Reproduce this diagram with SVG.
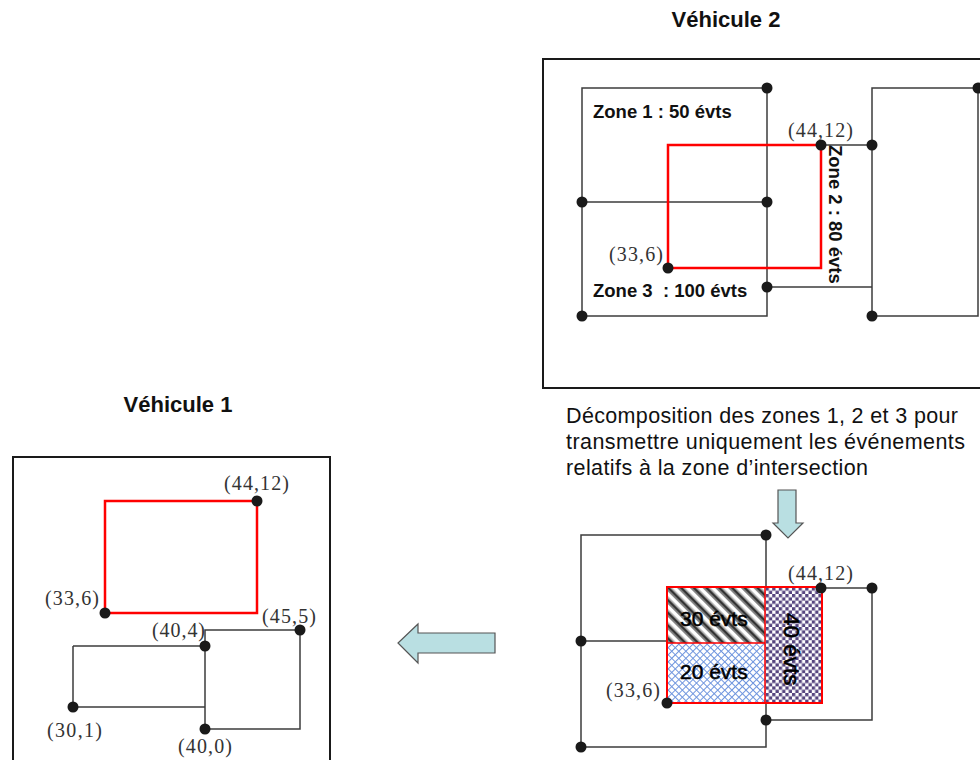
<svg xmlns="http://www.w3.org/2000/svg" width="980" height="760" viewBox="0 0 980 760">
<defs>
<style>
.frame{fill:none;stroke:#1a1a1a;stroke-width:2}
.ln{fill:none;stroke:#3c3c3c;stroke-width:1.5}
.red{fill:none;stroke:#ff0000;stroke-width:2.5}
.dot{fill:#1a1a1a}
.title{font-family:"Liberation Sans",Arial,sans-serif;font-weight:bold;font-size:22px;fill:#111}
.zone{font-family:"Liberation Sans",Arial,sans-serif;font-weight:bold;font-size:18.5px;fill:#111}
.coord{font-family:"Liberation Serif","Times New Roman",serif;font-size:20px;fill:#333}
.para{font-family:"Liberation Sans",Arial,sans-serif;font-size:21.5px;fill:#111}
.cnt{font-family:"Liberation Sans",Arial,sans-serif;font-size:21px;fill:#000;stroke:#000;stroke-width:0.5}
.arrow{fill:#b9dfe2;stroke:#555;stroke-width:1.2}
</style>
<pattern id="stripes" width="9" height="9" patternUnits="userSpaceOnUse" patternTransform="rotate(-45)">
<rect width="9" height="9" fill="#fff"/>
<rect x="0" width="1.5" height="9" fill="#888"/>
<rect x="1.5" width="2.5" height="9" fill="#333"/>
<rect x="4" width="1.5" height="9" fill="#999"/>
</pattern>
<pattern id="cross" width="5" height="5" patternUnits="userSpaceOnUse" patternTransform="rotate(45)">
<rect width="5" height="5" fill="#fff"/>
<path d="M0 0.5H5M0.5 0V5" stroke="#6f95de" stroke-width="1"/>
</pattern>
<pattern id="checker" width="6.6" height="6.6" patternUnits="userSpaceOnUse">
<rect width="6.6" height="6.6" fill="#fff"/>
<rect width="3.3" height="3.3" fill="#56457f"/>
<rect x="3.3" y="3.3" width="3.3" height="3.3" fill="#56457f"/>
</pattern>
</defs>
<rect width="980" height="760" fill="#fff"/>

<g id="vehicule2">
<text class="title" x="726" y="27" text-anchor="middle">Véhicule 2</text>
<rect class="frame" x="543" y="59" width="450" height="329"/>
<path class="ln" d="M582 88H767V316H582ZM582 202H767M767 287H872M821 145H872M872 88H978V316H872Z"/>
<rect class="red" x="668" y="145" width="153" height="123"/>
<circle class="dot" cx="767" cy="88" r="5.5"/>
<circle class="dot" cx="582" cy="202" r="5.5"/>
<circle class="dot" cx="767" cy="202" r="5.5"/>
<circle class="dot" cx="582" cy="316" r="5.5"/>
<circle class="dot" cx="767" cy="287" r="5.5"/>
<circle class="dot" cx="872" cy="145" r="5.5"/>
<circle class="dot" cx="872" cy="316" r="5.5"/>
<circle class="dot" cx="978" cy="88" r="5.5"/>
<circle class="dot" cx="668" cy="268" r="5.5"/>
<circle class="dot" cx="821" cy="145" r="5.5"/>
<text class="zone" x="593" y="118">Zone 1 : 50 évts</text>
<text class="zone" x="593" y="297" xml:space="preserve">Zone 3  : 100 évts</text>
<text class="zone" transform="translate(829,145) rotate(90)" x="0" y="0">Zone 2 : 80 évts</text>
<text class="coord" x="788" y="137" textLength="65">(44,12)</text>
<text class="coord" x="609" y="261" textLength="54">(33,6)</text>
</g>

<g id="decomposition-text">
<text class="para" x="566" y="423" textLength="392">Décomposition des zones 1, 2 et 3 pour</text>
<text class="para" x="566" y="449" textLength="399">transmettre uniquement les événements</text>
<text class="para" x="566" y="475" textLength="302">relatifs à la zone d’intersection</text>
</g>

<g id="decomposition">
<path class="ln" d="M581 535H766V747H581ZM581 641H667M766 720H872V588H821"/>
<rect x="667" y="587" width="98" height="56" fill="url(#stripes)"/>
<rect x="667" y="643" width="98" height="60" fill="url(#cross)"/>
<rect x="765" y="587" width="57" height="116" fill="url(#checker)"/>
<path fill="none" stroke="#ff0000" stroke-width="1.5" d="M667 643H765M765 587V703"/>
<rect x="667" y="587" width="155" height="116" fill="none" stroke="#ff0000" stroke-width="2"/>
<circle class="dot" cx="766" cy="535" r="5.5"/>
<circle class="dot" cx="581" cy="641" r="5.5"/>
<circle class="dot" cx="581" cy="747" r="5.5"/>
<circle class="dot" cx="766" cy="720" r="5.5"/>
<circle class="dot" cx="872" cy="588" r="5.5"/>
<circle class="dot" cx="821" cy="588" r="5.5"/>
<circle class="dot" cx="667" cy="703" r="5.5"/>
<text class="cnt" x="680" y="626">30 évts</text>
<text class="cnt" x="680" y="679">20 évts</text>
<text class="cnt" style="font-size:22.5px" transform="translate(784,613) rotate(90)" x="0" y="0">40 évts</text>
<text class="coord" x="788" y="580" textLength="65">(44,12)</text>
<text class="coord" x="606" y="697" textLength="54">(33,6)</text>
</g>

<g id="vehicule1">
<text class="title" x="178" y="412" text-anchor="middle">Véhicule 1</text>
<rect class="frame" x="13" y="457" width="317" height="320"/>
<rect class="red" x="105" y="501" width="152" height="112"/>
<path class="ln" d="M205 630H300V729H205ZM73 646H205M73 646V707H205"/>
<circle class="dot" cx="257" cy="501" r="5.5"/>
<circle class="dot" cx="105" cy="613" r="5.5"/>
<circle class="dot" cx="300" cy="630" r="5.5"/>
<circle class="dot" cx="205" cy="646" r="5.5"/>
<circle class="dot" cx="73" cy="707" r="5.5"/>
<circle class="dot" cx="205" cy="729" r="5.5"/>
<text class="coord" x="224" y="490" textLength="65">(44,12)</text>
<text class="coord" x="45" y="605" textLength="54">(33,6)</text>
<text class="coord" x="262" y="623" textLength="54">(45,5)</text>
<text class="coord" x="152" y="637" textLength="53">(40,4)</text>
<text class="coord" x="47" y="737" textLength="55">(30,1)</text>
<text class="coord" x="178" y="753" textLength="54">(40,0)</text>
</g>

<g id="connectors">
<path class="arrow" d="M778 490H796V523H803L788 538L773 523H778Z"/>
<path class="arrow" d="M495 633H418V624L398 643L418 663V653H495Z"/>
</g>
</svg>
